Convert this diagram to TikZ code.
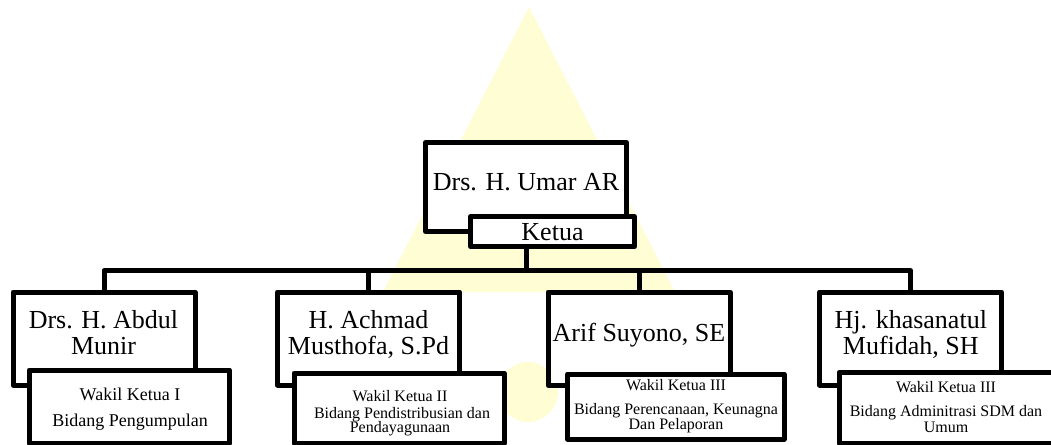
\documentclass[tikz,border=0pt]{standalone}
\usepackage{fontspec}
\setmainfont{Liberation Serif}
\usetikzlibrary{backgrounds}
\definecolor{wm}{RGB}{255,253,212}
\begin{document}
\begin{tikzpicture}[x=1pt,y=-1pt,
  box/.style={draw=black, line width=5pt, fill=white, rectangle, inner sep=0pt, line join=round},
  conn/.style={draw=black, line width=5pt, line join=round},
  nm/.style={font=\fontsize{26}{28}\selectfont, inner sep=0pt, anchor=base},
  subbig/.style={font=\fontsize{18}{20}\selectfont, inner sep=0pt, anchor=base},
  sub/.style={font=\fontsize{16}{18}\selectfont, inner sep=0pt, anchor=base}]
\useasboundingbox (0,0) rectangle (1051,444);

% chairman
\node[box, minimum width=201pt, minimum height=89pt] (umar) at (526,187) {};
\node[nm] (tumar) at (526,190) {Drs. H. Umar AR};
\node[box, minimum width=164pt, minimum height=30pt] (ketua) at (552.5,231.5) {};
\node[nm] (tketua) at (552.5,240) {Ketua};

% name boxes
\node[box, minimum width=182pt, minimum height=93pt] (b1) at (104,338.5) {};
\node[box, minimum width=182pt, minimum height=93pt] (b2) at (368.5,338.5) {};
\node[box, minimum width=182pt, minimum height=93pt] (b3) at (639,338.5) {};
\node[box, minimum width=182pt, minimum height=93pt] (b4) at (910.5,338.5) {};

\node[nm] (t1a) at (103.5,328.3) {Drs. H. Abdul};
\node[nm] (t1b) at (103.5,354.3) {Munir};
\node[nm] (t2a) at (368.5,328.3) {H. Achmad};
\node[nm] (t2b) at (368.5,354.3) {Musthofa, S.Pd};
\node[nm] (t3a) at (639,341.7) {Arif Suyono, SE};
\node[nm] (t4a) at (910.8,328.3) {Hj. khasanatul};
\node[nm] (t4b) at (910.8,354.3) {Mufidah, SH};

% position boxes
\node[box, minimum width=200.5pt, minimum height=73pt] (w1) at (129.3,406.5) {};
\node[box, minimum width=210pt, minimum height=70pt] (w2) at (399,408) {};
\node[box, minimum width=216.5pt, minimum height=65pt] (w3) at (675.8,406.5) {};
\node[box, minimum width=214pt, minimum height=70.5pt] (w4) at (946,407.75) {};

\node[subbig] (s1a) at (130,400.7) {Wakil Ketua I};
\node[subbig] (s1b) at (130,426) {Bidang Pengumpulan};
\node[sub] (s2a) at (400,401.7) {Wakil Ketua II};
\node[sub] (s2b) at (402,418.3) {Bidang Pendistribusian dan};
\node[sub] (s2c) at (400,432.7) {Pendayagunaan};
\node[sub] (s3a) at (676,390) {Wakil Ketua III};
\node[sub] (s3b) at (676,414) {Bidang Perencanaan, Keunagna};
\node[sub] (s3c) at (676,429.3) {Dan Pelaporan};
\node[sub] (s4a) at (946,392.7) {Wakil Ketua III};
\node[sub] (s4b) at (946,416.7) {Bidang Adminitrasi SDM dan};
\node[sub] (s4c) at (946,432.7) {Umum};

\coordinate (hub) at (526,270.5);

\begin{scope}[on background layer]
  % watermark
  \fill[wm] (529,7) -- (675,292) -- (383,292) -- cycle;
  \fill[wm] (528,392) circle (30);
  % connectors
  \draw[conn] (umar.center) -- (hub);
  \draw[conn] (b1.north) |- (hub) -| (b4.north);
  \draw[conn] (b2.north) -- (b2.north |- hub);
  \draw[conn] (b3.north) -- (b3.north |- hub);
\end{scope}
\end{tikzpicture}
\end{document}
